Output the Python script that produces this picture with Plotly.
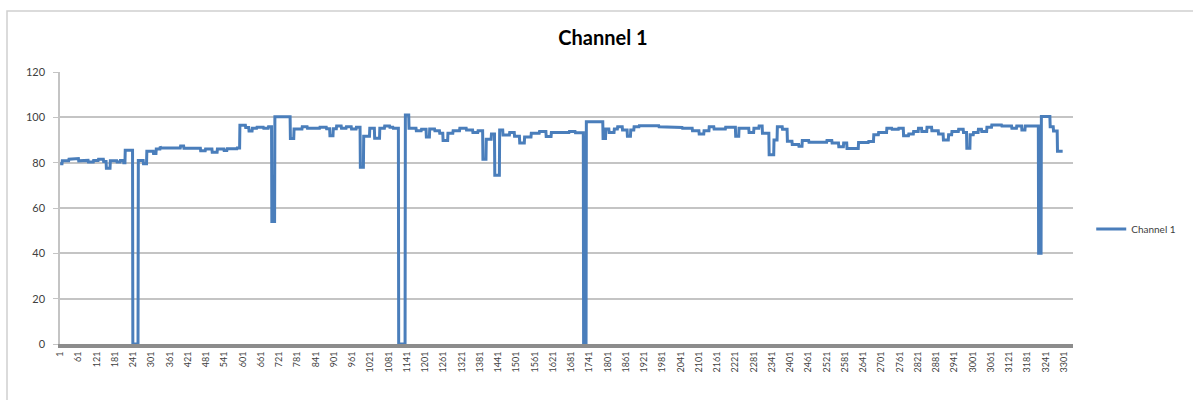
import numpy as np
import plotly.graph_objects as go

# Run-length reading of the series: each value holds from its start index
# until the next start index.
seg_start = [1, 8, 30, 46, 62, 72, 94, 111, 127, 144, 153, 166, 188, 199, 210, 215,
             240, 258, 275, 286, 308, 317, 330, 331, 397, 408, 463, 479, 501, 518, 540, 550,
             583, 592, 611, 622, 633, 648, 670, 686, 697, 707, 758, 770, 797, 814,
             855, 877, 888, 899, 910, 926, 942, 959, 975, 988, 999, 1019, 1035, 1052,
             1068, 1085, 1096, 1114, 1136, 1148, 1172, 1189, 1205, 1216, 1233, 1249,
             1260, 1276, 1293, 1315, 1337, 1358, 1375, 1391, 1402, 1419, 1430, 1446,
             1457, 1479, 1495, 1512, 1528, 1550, 1577, 1599, 1616, 1675, 1695, 1722,
             1731, 1786, 1795, 1806, 1823, 1834, 1850, 1866, 1877, 1888, 1905, 1970,
             2014, 2047, 2080, 2102, 2118, 2135, 2151, 2189, 2222, 2233, 2266, 2282,
             2299, 2310, 2332, 2348, 2359, 2376, 2392, 2408, 2430, 2441, 2463, 2522,
             2539, 2561, 2577, 2588, 2626, 2659, 2676, 2692, 2719, 2736, 2758, 2774,
             2791, 2807, 2823, 2834, 2851, 2867, 2889, 2905, 2922, 2933, 2955, 2971,
             2982, 2993, 3004, 3020, 3031, 3048, 3064, 3097, 3130, 3146, 3163, 3174,
             3218, 3227, 3256, 3267, 3280]
seg_value = [79.5, 80.8, 81.5, 81.8, 80.8, 81, 80.3, 81, 81.5, 80.5, 77.5, 80.8, 80.3, 81, 80, 85.5,
             0, 81, 79.5, 85, 84, 86, 87, 86.5, 87.3, 86.4, 85.3, 86, 84.6, 86, 85.4, 86.1,
             86.5, 96.5, 95.5, 94, 95.2, 95.6, 95.2, 95.8, 54, 100.3, 90.7, 94.8, 95.8, 95.2,
             95.6, 95, 91.9, 95, 96.2, 95.2, 95.8, 94.8, 95.6, 78, 91.6, 95.2, 90.8, 95.2,
             96.2, 95.6, 95.2, 0, 101, 95.2, 94.1, 94.7, 91.3, 94.8, 94.1, 93,
             89.8, 93, 94.1, 95.2, 94.4, 93.3, 94.1, 81.5, 90.3, 92.6, 74.5, 94.4,
             92.2, 93.3, 91.6, 88.7, 91.3, 93, 93.7, 91.5, 93.3, 93.7, 93.2, 0,
             98, 90.7, 94.8, 93.3, 94.8, 95.8, 94.4, 91.6, 94.4, 95.8, 96.3, 95.8,
             95.5, 95.2, 94.1, 92.6, 94.1, 95.8, 94.9, 95.6, 91.6, 95.2, 93.3, 95.2,
             96.2, 93, 83.5, 90, 95.8, 94.7, 89.5, 88, 87.2, 89.8, 89, 89.8,
             88.7, 87, 88.7, 86.2, 88.9, 89.3, 92.3, 93.3, 95.2, 94.7, 95.2, 91.9,
             92.6, 93.7, 95.2, 93.7, 95.6, 94.1, 92.6, 90, 92.3, 93.7, 94.7, 93.3,
             86.4, 92.3, 93.3, 94.7, 93.7, 95.6, 96.6, 96.2, 95.2, 96.2, 94.4, 96.2,
             40, 100.4, 95.8, 94, 85]
last_index = 3297

tick_vals = list(range(1, 3302, 60))
tick_text = [str(v) for v in tick_vals]

starts = np.array(seg_start)
lengths = np.diff(np.append(starts, last_index + 1))
y = np.repeat(np.array(seg_value, dtype=float), lengths)
x = np.arange(1, len(y) + 1)

fig = go.Figure()
fig.add_trace(go.Scatter(x=x, y=y, mode="lines", name="Channel 1",
                         line=dict(color="#4a7ebb", width=3)))

font_family = "Lato, 'Open Sans', sans-serif"
fig.update_layout(
    width=1193, height=400,
    margin=dict(l=60, r=120, t=72, b=56),
    paper_bgcolor="white", plot_bgcolor="white",
    font=dict(family=font_family, color="#404040"),
    title=dict(text="<b>Channel 1</b>", x=603 / 1193, xanchor="center",
               y=1 - 38 / 400, yanchor="middle", yref="container",
               font=dict(size=20, color="#000000", family=font_family)),
    showlegend=True,
    legend=dict(x=1.018, y=0.423, xanchor="left", yanchor="middle",
                font=dict(size=10, color="#404040"), bgcolor="rgba(0,0,0,0)",
                itemwidth=30),
    xaxis=dict(range=[0.5, 3331], tickmode="array", tickvals=tick_vals, ticktext=tick_text,
               tickangle=-90, tickfont=dict(size=9, color="#404040"),
               showgrid=False, zeroline=False, showline=True, linecolor="#8c8c8c",
               linewidth=4, ticks="", fixedrange=True),
    yaxis=dict(range=[0, 120], dtick=20, tick0=0, showgrid=True, gridcolor="#c4c4c4",
               gridwidth=1.5, zeroline=False, showline=True, linecolor="#c4c4c4",
               linewidth=1.5, ticks="outside", ticklen=5, tickcolor="#c4c4c4",
               tickfont=dict(size=11, color="#404040"), ticklabelstandoff=6,
               fixedrange=True),
)

fig.add_shape(type="rect", xref="paper", yref="paper",
              x0=(7 - 60) / 1013, x1=(1210 - 60) / 1013,
              y0=(344 - 420) / 272, y1=(344 - 11) / 272,
              line=dict(color="#d0d0d0", width=1.5), fillcolor="rgba(0,0,0,0)", layer="below")

fig.write_html("out.html", config={"displayModeBar": False},
               post_script="document.body.style.margin='0';document.body.style.overflow='hidden';")
